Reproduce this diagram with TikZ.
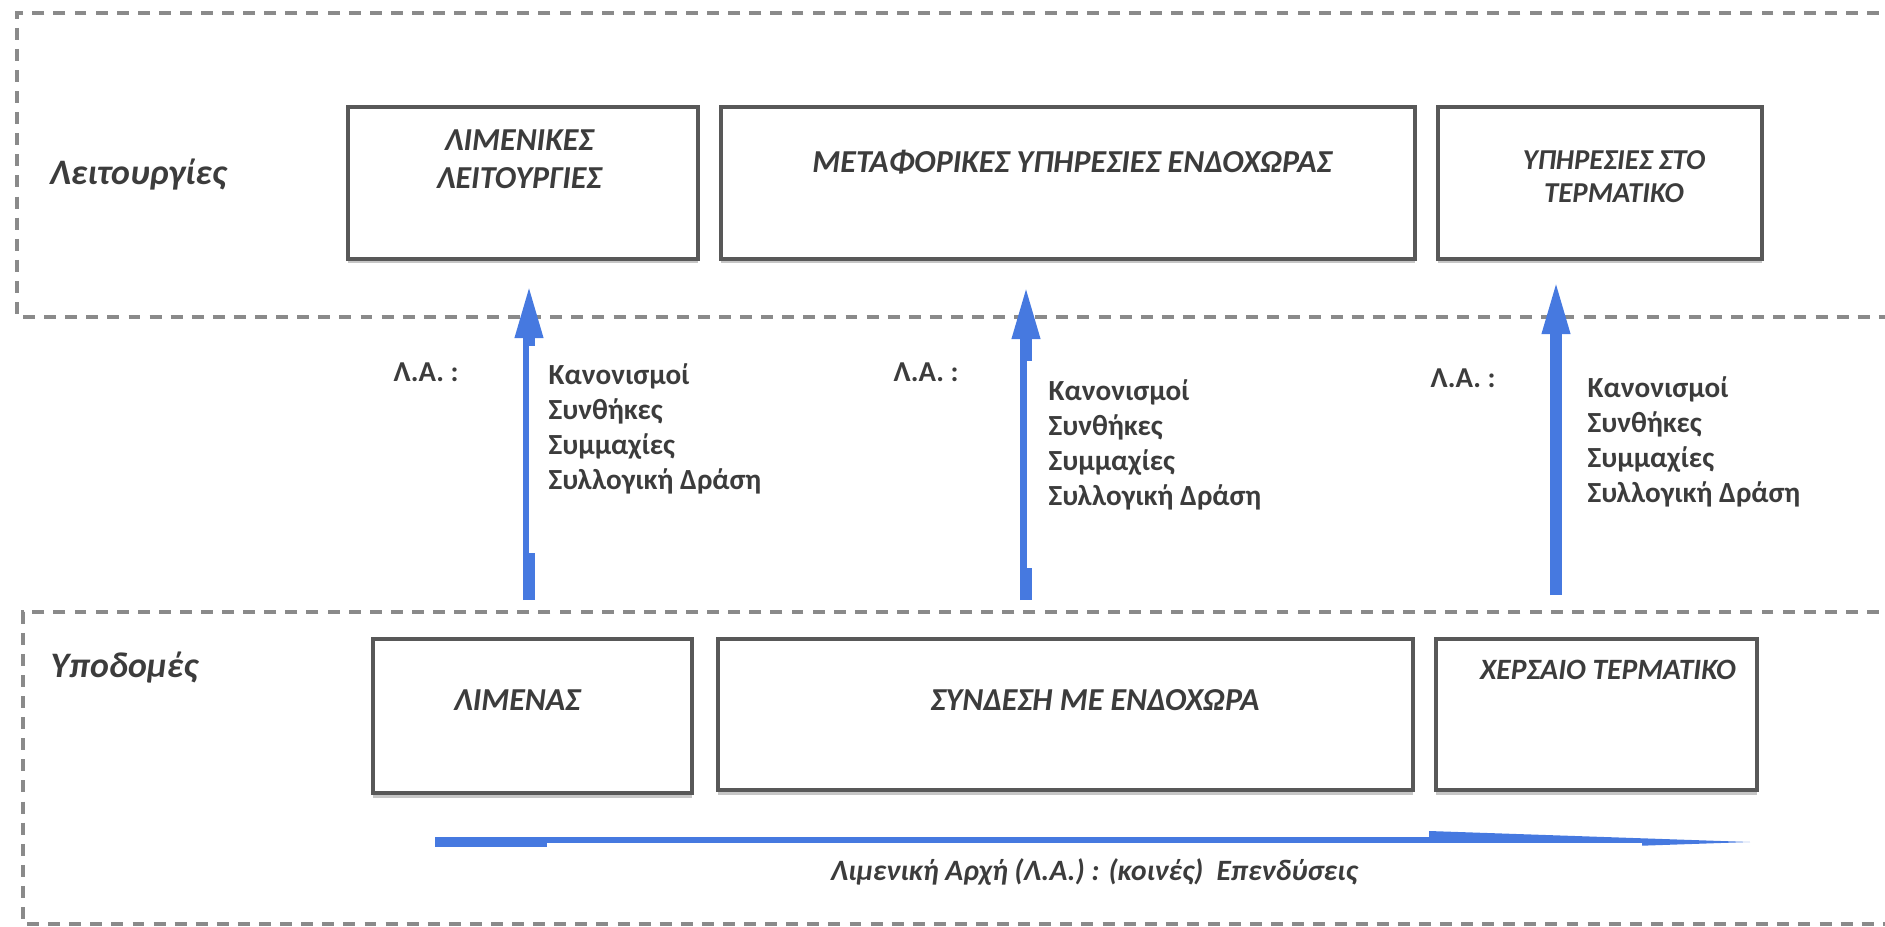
\documentclass[tikz,border=0pt]{standalone}
\usepackage{fontspec}
\setmainfont{Carlito}
\usepackage{tikz}
\usetikzlibrary{arrows.meta,positioning,calc,shadows}
\definecolor{arrblue}{RGB}{70,121,224}
\definecolor{boxgray}{RGB}{88,88,88}
\definecolor{dashgray}{RGB}{138,138,138}
\definecolor{txtgray}{RGB}{60,60,60}
\tikzset{>=latex}
\tikzset{
  zone/.style={dashgray, line width=1.1pt, dash pattern=on 3.4pt off 2.6pt},
  box/.style={rectangle, draw=boxgray, line width=1.1pt, fill=white, inner sep=0pt,
    drop shadow={shadow xshift=0pt, shadow yshift=-0.045cm, fill=gray, opacity=0.45}},
  boxtxt/.style={font=\fontsize{9.1}{10.8}\selectfont\bfseries\itshape, text=txtgray, align=center},
  sect/.style={font=\fontsize{10.2}{12}\selectfont\bfseries\itshape, text=txtgray, inner sep=0pt},
  la/.style={font=\fontsize{8.2}{10}\selectfont\bfseries, text=txtgray},
  notes/.style={font=\fontsize{8.3}{9.96}\selectfont\bfseries, text=txtgray, align=left, inner sep=0pt, anchor=north west},
  uparr/.style={arrblue, line width=3.4pt, -{Triangle[width=7.1pt,length=16pt]}},
  longarr/.style={arrblue, line width=2.85pt}
}

\begin{document}
\begin{tikzpicture}
      \useasboundingbox (0,0) rectangle (18.85,-9.27);
      % the two zones
      \draw[zone] (19,-0.13) -- (0.17,-0.13) -- (0.17,-3.17) -- (19,-3.17);
      \draw[zone] (19,-6.12) -- (0.23,-6.12) -- (0.23,-9.24) -- (19,-9.24);
      \node[sect, anchor=base west] (F) at (0.49,-1.85) {Λειτουργίες};
      \node[sect, anchor=base west] (I) at (0.50,-6.77) {Υποδομές};

      % functions
      \node[box, minimum width=3.50cm, minimum height=1.52cm] (PF) at (5.23,-1.83) {};
      \node[box, minimum width=6.94cm, minimum height=1.52cm] (TS) at (10.68,-1.83) {};
      \node[box, minimum width=3.24cm, minimum height=1.52cm] (TM) at (16.00,-1.83) {};
      \node[boxtxt] (PFt) at (5.19,-1.59) {ΛΙΜΕΝΙΚΕΣ\\ΛΕΙΤΟΥΡΓΙΕΣ};
      \node[boxtxt] (TSt) at (10.72,-1.62) {ΜΕΤΑΦΟΡΙΚΕΣ ΥΠΗΡΕΣΙΕΣ ΕΝΔΟΧΩΡΑΣ};
      \node[boxtxt, font=\fontsize{8.2}{9.4}\selectfont\bfseries\itshape] (TMt) at (16.14,-1.765) {ΥΠΗΡΕΣΙΕΣ ΣΤΟ\\ΤΕΡΜΑΤΙΚΟ};

      % infrastructure
      \node[box, minimum width=3.19cm, minimum height=1.54cm] (PT) at (5.325,-7.16) {};
      \node[box, minimum width=6.95cm, minimum height=1.51cm] (HL) at (10.655,-7.145) {};
      \node[box, minimum width=3.21cm, minimum height=1.51cm] (LT) at (15.965,-7.145) {};
      \node[boxtxt] (PTt) at (5.17,-7.00) {ΛΙΜΕΝΑΣ};
      \node[boxtxt] (HLt) at (10.95,-7.00) {ΣΥΝΔΕΣΗ ΜΕ ΕΝΔΟΧΩΡΑ};
      \node[boxtxt, font=\fontsize{8.4}{10}\selectfont\bfseries\itshape] (LTt) at (16.08,-6.70) {ΧΕΡΣΑΙΟ ΤΕΡΜΑΤΙΚΟ};

      % upward arrows
      \coordinate (a1) at (5.29,-6.00);
      \coordinate (a1t) at (5.29,-2.82);
      \coordinate (a2) at (10.26,-6.00);
      \coordinate (a2t) at (10.26,-2.83);
      \coordinate (a3) at (15.56,-5.95);
      \coordinate (a3t) at (15.56,-2.78);
      \draw[uparr] (a1) -- (a1t);
      \draw[uparr] (a2) -- (a2t);
      \draw[uparr] (a3) -- (a3t);
      \fill[white] (5.29,-3.46) rectangle (8.19,-5.53);
      \fill[white] (10.27,-3.61) rectangle (13.3,-5.68);

      \node[la] (la1) at (4.26,-3.72) {Λ.Α. :};
      \node[la] (la2) at (9.26,-3.72) {Λ.Α. :};
      \node[la] (la3) at (14.63,-3.78) {Λ.Α. :};
      \node[notes] (n1) at (5.48,-3.63) {Κανονισμοί\\Συνθήκες\\Συμμαχίες\\Συλλογική Δράση};
      \node[notes] (n2) at (10.48,-3.79) {Κανονισμοί\\Συνθήκες\\Συμμαχίες\\Συλλογική Δράση};
      \node[notes] (n3) at (15.87,-3.76) {Κανονισμοί\\Συνθήκες\\Συμμαχίες\\Συλλογική Δράση};

      % investments
      \coordinate (h0) at (4.35,-8.42);
      \coordinate (hb) at (14.29,-8.42);
      \coordinate (h1) at (17.50,-8.42);
      \draw[longarr] (h0) -- (hb);
      \fill[arrblue] ($(hb)+(0,0.11)$) -- (h1) -- ($(hb)+(0,-0.11)$) -- cycle;
      \fill[white] (5.47,-8.43) rectangle (16.42,-9.0);
      \node[boxtxt, font=\fontsize{8.4}{10}\selectfont\bfseries\itshape] (inv) at (10.94,-8.72) {Λιμενική Αρχή (Λ.Α.) : (κοινές)\ \ Επενδύσεις};
\end{tikzpicture}
\end{document}
